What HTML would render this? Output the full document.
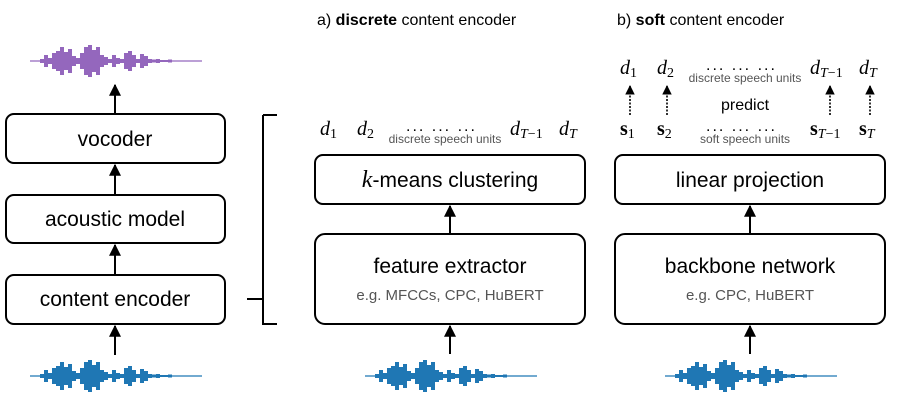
<!DOCTYPE html>
<html><head><meta charset="utf-8"><style>
body{margin:0;background:#fff;width:913px;height:404px;overflow:hidden;font-family:"Liberation Sans",sans-serif;}
.s{font-family:"Liberation Sans",sans-serif;}
.m{font-family:"Liberation Serif",serif;font-style:italic;}
.b{font-family:"Liberation Serif",serif;font-weight:bold;}
</style></head><body>
<svg width="913" height="404" viewBox="0 0 913 404" xmlns="http://www.w3.org/2000/svg">
<defs>
<marker id="ah" viewBox="0 0 10 10" refX="9" refY="5" markerWidth="6" markerHeight="6" orient="auto"><path d="M0,0 L10,5 L0,10 z" fill="#000"/></marker>
<g id="wave" stroke="currentColor" fill="none">
<line x1="0" y1="0" x2="172" y2="0" stroke-width="1.2"/>
<path stroke-width="4" d="M12,-2V2 M16,-6V6 M20,-3V3 M24,-8V8 M28,-10V10 M32,-14V14 M36,-9V9 M40,-12V12 M44,-5V5 M48,-3V3 M52,-8V8 M56,-14V14 M60,-16V16 M64,-11V11 M68,-14V14 M72,-6V6 M76,-4V4 M80,-2V2 M84,-6V6 M88,-3V3 M92,-2V2 M96,-8V8 M100,-10V10 M104,-6V6 M108,-2V2 M112,-7V7 M116,-5V5 M120,-2V2 M124,-1.5V1.5 M128,-2V2 M132,-1V1 M136,-1V1 M140,-1.5V1.5"/>
</g>
</defs>
<use href="#wave" x="30" y="61" style="color:#9467bd"/>
<use href="#wave" x="30" y="376" style="color:#1f77b4"/>
<use href="#wave" x="365" y="376" style="color:#1f77b4"/>
<use href="#wave" x="665" y="376" style="color:#1f77b4"/>

<g fill="none" stroke="#000" stroke-width="2">
<rect x="6" y="114" width="219" height="49" rx="8"/>
<rect x="6" y="195" width="219" height="48" rx="8"/>
<rect x="6" y="275" width="219" height="49" rx="8"/>
<rect x="315" y="155" width="270" height="49" rx="8"/>
<rect x="315" y="234" width="270" height="90" rx="10"/>
<rect x="615" y="155" width="270" height="49" rx="8"/>
<rect x="615" y="234" width="270" height="90" rx="10"/>
<path d="M263,115 H277 M263,115 V324 H277 M247,299 H263"/>
</g>
<g stroke="#000" stroke-width="2" marker-end="url(#ah)">
<line x1="115" y1="113" x2="115" y2="85"/>
<line x1="115" y1="194" x2="115" y2="165"/>
<line x1="115" y1="274" x2="115" y2="245"/>
<line x1="115" y1="355" x2="115" y2="326"/>
<line x1="450" y1="233" x2="450" y2="206"/>
<line x1="450" y1="354" x2="450" y2="326"/>
<line x1="750" y1="233" x2="750" y2="206"/>
<line x1="750" y1="354" x2="750" y2="326"/>
</g>
<g stroke="#000" stroke-width="1.6" stroke-dasharray="2,1.5" marker-end="url(#ah)">
<line x1="630" y1="115" x2="630" y2="86"/>
<line x1="667" y1="115" x2="667" y2="86"/>
<line x1="830" y1="115" x2="830" y2="86"/>
<line x1="870" y1="115" x2="870" y2="86"/>
</g>

<g font-size="21" text-anchor="middle" fill="#000" class="s">
<text x="115" y="146">vocoder</text>
<text x="115" y="226">acoustic model</text>
<text x="115" y="306">content encoder</text>
<text x="450" y="187"><tspan class="m" font-size="24">k</tspan>-means clustering</text>
<text x="450" y="273">feature extractor</text>
<text x="750" y="187">linear projection</text>
<text x="750" y="273">backbone network</text>
</g>
<g font-size="15" text-anchor="middle" fill="#555" class="s">
<text x="450" y="300">e.g. MFCCs, CPC, HuBERT</text>
<text x="750" y="300">e.g. CPC, HuBERT</text>
</g>
<g font-size="16" fill="#000" class="s">
<text x="317" y="25">a) <tspan font-weight="bold">discrete</tspan> content encoder</text>
<text x="617" y="25">b) <tspan font-weight="bold">soft</tspan> content encoder</text>
<text x="721" y="110">predict</text>
</g>
<g font-size="12" fill="#555" text-anchor="middle" class="s">
<text x="445" y="143">discrete speech units</text>
<text x="745" y="82">discrete speech units</text>
<text x="745" y="143">soft speech units</text>
</g>
<g font-size="20" fill="#000" class="m">
<text x="320" y="135">d<tspan font-size="14" font-style="normal" dy="3">1</tspan></text>
<text x="357" y="135">d<tspan font-size="14" font-style="normal" dy="3">2</tspan></text>
<text x="510" y="135">d<tspan font-size="14" dy="3">T</tspan><tspan font-size="14" font-style="normal">−1</tspan></text>
<text x="559" y="135">d<tspan font-size="14" dy="3">T</tspan></text>
<text x="620" y="74">d<tspan font-size="14" font-style="normal" dy="3">1</tspan></text>
<text x="657" y="74">d<tspan font-size="14" font-style="normal" dy="3">2</tspan></text>
<text x="810" y="74">d<tspan font-size="14" dy="3">T</tspan><tspan font-size="14" font-style="normal">−1</tspan></text>
<text x="859" y="74">d<tspan font-size="14" dy="3">T</tspan></text>
</g>
<g font-size="20" fill="#000" class="b">
<text x="620" y="135">s<tspan font-size="14" font-weight="normal" dy="3">1</tspan></text>
<text x="657" y="135">s<tspan font-size="14" font-weight="normal" dy="3">2</tspan></text>
<text x="810" y="135">s<tspan font-size="14" font-weight="normal" font-style="italic" dy="3">T</tspan><tspan font-size="14" font-weight="normal">−1</tspan></text>
<text x="859" y="135">s<tspan font-size="14" font-weight="normal" font-style="italic" dy="3">T</tspan></text>
</g>
<g font-size="16" fill="#000" letter-spacing="2" class="s">
<text x="406" y="131">... ... ...</text>
<text x="706" y="70">... ... ...</text>
<text x="706" y="131">... ... ...</text>
</g>
</svg>
</body></html>
